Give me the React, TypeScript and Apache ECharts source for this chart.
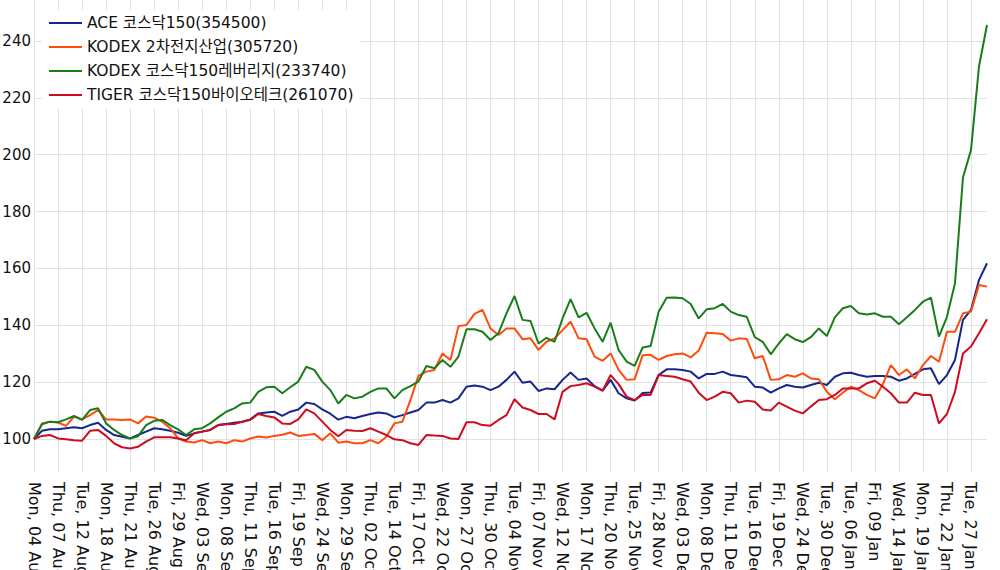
import React, { useEffect, useRef } from "react";
import * as echarts from "echarts";

const categories = [
  "Mon, 04 Aug", "Tue, 05 Aug", "Wed, 06 Aug", "Thu, 07 Aug", "Fri, 08 Aug",
  "Mon, 11 Aug", "Tue, 12 Aug", "Wed, 13 Aug", "Thu, 14 Aug",
  "Mon, 18 Aug", "Tue, 19 Aug", "Wed, 20 Aug", "Thu, 21 Aug", "Fri, 22 Aug",
  "Mon, 25 Aug", "Tue, 26 Aug", "Wed, 27 Aug", "Thu, 28 Aug", "Fri, 29 Aug",
  "Mon, 01 Sep", "Tue, 02 Sep", "Wed, 03 Sep", "Thu, 04 Sep", "Fri, 05 Sep",
  "Mon, 08 Sep", "Tue, 09 Sep", "Wed, 10 Sep", "Thu, 11 Sep", "Fri, 12 Sep",
  "Mon, 15 Sep", "Tue, 16 Sep", "Wed, 17 Sep", "Thu, 18 Sep", "Fri, 19 Sep",
  "Mon, 22 Sep", "Tue, 23 Sep", "Wed, 24 Sep", "Thu, 25 Sep", "Fri, 26 Sep",
  "Mon, 29 Sep", "Tue, 30 Sep", "Wed, 01 Oct", "Thu, 02 Oct", "Fri, 10 Oct",
  "Mon, 13 Oct", "Tue, 14 Oct", "Wed, 15 Oct", "Thu, 16 Oct", "Fri, 17 Oct",
  "Mon, 20 Oct", "Tue, 21 Oct", "Wed, 22 Oct", "Thu, 23 Oct", "Fri, 24 Oct",
  "Mon, 27 Oct", "Tue, 28 Oct", "Wed, 29 Oct", "Thu, 30 Oct", "Fri, 31 Oct",
  "Mon, 03 Nov", "Tue, 04 Nov", "Wed, 05 Nov", "Thu, 06 Nov", "Fri, 07 Nov",
  "Mon, 10 Nov", "Tue, 11 Nov", "Wed, 12 Nov", "Thu, 13 Nov", "Fri, 14 Nov",
  "Mon, 17 Nov", "Tue, 18 Nov", "Wed, 19 Nov", "Thu, 20 Nov", "Fri, 21 Nov",
  "Mon, 24 Nov", "Tue, 25 Nov", "Wed, 26 Nov", "Thu, 27 Nov", "Fri, 28 Nov",
  "Mon, 01 Dec", "Tue, 02 Dec", "Wed, 03 Dec", "Thu, 04 Dec", "Fri, 05 Dec",
  "Mon, 08 Dec", "Tue, 09 Dec", "Wed, 10 Dec", "Thu, 11 Dec", "Fri, 12 Dec",
  "Mon, 15 Dec", "Tue, 16 Dec", "Wed, 17 Dec", "Thu, 18 Dec", "Fri, 19 Dec",
  "Mon, 22 Dec", "Tue, 23 Dec", "Wed, 24 Dec", "Fri, 26 Dec", "Mon, 29 Dec",
  "Tue, 30 Dec", "Fri, 02 Jan", "Mon, 05 Jan", "Tue, 06 Jan", "Wed, 07 Jan",
  "Thu, 08 Jan", "Fri, 09 Jan", "Mon, 12 Jan", "Tue, 13 Jan", "Wed, 14 Jan",
  "Thu, 15 Jan", "Fri, 16 Jan", "Mon, 19 Jan", "Tue, 20 Jan", "Wed, 21 Jan",
  "Thu, 22 Jan", "Fri, 23 Jan", "Mon, 26 Jan", "Tue, 27 Jan", "Wed, 28 Jan",
  "Thu, 29 Jan",
];

const seriesNames = [
  "ACE 코스닥150(354500)",
  "KODEX 2차전지산업(305720)",
  "KODEX 코스닥150레버리지(233740)",
  "TIGER 코스닥150바이오테크(261070)",
];

const aceKosdaq150 = [
  100, 102.9, 103.4, 103.4, 103.8, 104.1, 103.8, 104.9, 105.7, 103.2,
  101.4, 100.8, 100.2, 101.4, 102.6, 103.8, 103.4, 102.9, 102.2, 101.1,
  102.0, 102.6, 103.2, 104.9, 105.3, 105.7, 106.1, 106.9, 109.0, 109.3,
  109.6, 108.1, 109.6, 110.4, 112.8, 112.3, 110.4, 108.9, 106.8, 107.8,
  107.3, 108.1, 108.8, 109.3, 109.0, 107.6, 108.4, 109.3, 110.2, 112.8,
  112.8, 113.7, 112.8, 114.3, 118.4, 118.8, 118.4, 117.2, 118.4, 120.8,
  123.7, 119.8, 120.2, 116.9, 117.8, 117.5, 120.8, 123.4, 120.8, 121.3,
  118.6, 117.0, 120.8, 116.1, 114.3, 113.5, 116.2, 116.4, 122.5, 124.5,
  124.5, 124.3, 123.7, 121.3, 122.9, 122.9, 123.7, 122.5, 122.2, 121.7,
  118.4, 118.1, 116.3, 117.8, 119.0, 118.4, 118.1, 119.0, 119.8, 119.0,
  121.9, 123.1, 123.3, 122.5, 121.9, 122.2, 122.2, 121.9, 120.5, 121.3,
  122.9, 124.5, 124.9, 119.3, 122.5, 127.8, 141.9, 145.4, 155.9, 161.8,
];

const kodexBattery = [
  100, 105.5, 106.1, 105.8, 104.6, 107.9, 106.9, 108.4, 110.2, 106.9,
  106.9, 106.7, 106.9, 105.5, 107.9, 107.5, 106.1, 103.8, 100.2, 99.1,
  98.8, 99.6, 98.5, 99.1, 98.5, 99.6, 99.1, 100.2, 100.9, 100.5,
  101.1, 101.5, 102.3, 101.1, 101.4, 101.8, 99.6, 102.0, 98.7, 99.1,
  98.5, 98.5, 99.6, 98.5, 100.8, 105.5, 106.1, 113.7, 122.2, 123.7,
  124.3, 130.1, 127.8, 139.7, 140.1, 144.0, 145.4, 138.9, 136.6, 138.9,
  138.9, 135.1, 135.4, 131.3, 134.2, 135.4, 138.3, 141.3, 135.4, 135.1,
  129.0, 127.5, 130.1, 124.3, 120.8, 121.0, 129.5, 129.6, 127.8, 129.2,
  129.8, 130.1, 128.7, 131.1, 137.4, 137.2, 136.9, 134.6, 135.4, 135.2,
  128.4, 129.2, 120.8, 121.0, 122.5, 121.9, 123.1, 121.3, 121.0, 116.6,
  114.0, 116.3, 118.4, 117.2, 115.5, 114.3, 119.3, 126.0, 122.5, 124.5,
  121.3, 126.0, 129.2, 127.2, 137.7, 137.7, 144.2, 144.8, 154.2, 153.6,
];

const kodexLeverage = [
  100, 105.2, 106.1, 105.9, 106.9, 108.1, 106.7, 110.2, 110.8, 105.5,
  103.2, 101.4, 100.2, 101.0, 104.9, 106.4, 106.7, 104.9, 103.4, 101.4,
  103.4, 103.8, 105.5, 107.6, 109.6, 110.8, 112.5, 112.8, 116.6, 118.2,
  118.4, 116.1, 118.2, 120.2, 125.4, 124.3, 120.2, 117.2, 112.5, 115.5,
  114.3, 114.9, 116.6, 117.8, 117.8, 114.3, 117.2, 118.6, 120.2, 125.7,
  124.9, 127.8, 125.4, 129.0, 138.6, 138.6, 137.7, 134.8, 137.2, 144.2,
  150.3, 141.9, 141.5, 133.6, 135.6, 134.2, 142.4, 149.2, 142.8, 144.4,
  138.9, 134.2, 140.9, 131.3, 127.2, 125.7, 132.2, 132.7, 144.8, 149.7,
  149.8, 149.5, 147.5, 142.4, 145.6, 146.0, 147.5, 144.8, 143.6, 143.0,
  135.8, 134.2, 129.8, 133.6, 136.9, 135.1, 134.1, 135.8, 138.9, 136.2,
  142.8, 146.0, 146.8, 144.2, 143.8, 144.2, 143.0, 143.0, 140.4, 142.8,
  145.4, 148.3, 149.7, 136.0, 143.0, 154.7, 192.0, 201.6, 231.0, 245.6,
];

const tigerBiotech = [
  100, 101.1, 101.4, 100.2, 99.9, 99.6, 99.4, 102.9, 103.2, 101.1,
  98.5, 97.1, 96.7, 97.3, 99.1, 100.6, 100.6, 100.6, 100.2, 99.6,
  102.0, 102.6, 103.2, 104.9, 105.2, 105.3, 106.1, 106.7, 108.8, 108.1,
  107.6, 105.5, 105.3, 106.9, 110.4, 109.0, 106.1, 103.2, 101.0, 103.2,
  102.9, 102.8, 103.8, 102.6, 101.4, 99.9, 99.6, 98.5, 97.9, 101.4,
  101.2, 101.1, 100.2, 100.0, 105.9, 105.9, 104.9, 104.7, 106.7, 108.4,
  114.0, 111.1, 110.2, 108.8, 108.8, 106.9, 116.6, 118.6, 119.0, 119.6,
  118.4, 117.0, 122.5, 119.3, 114.9, 113.7, 115.5, 115.5, 122.5, 122.2,
  121.9, 121.0, 120.2, 116.3, 113.7, 114.9, 116.6, 116.1, 112.8, 113.5,
  113.1, 110.4, 110.0, 112.8, 111.4, 110.0, 109.0, 111.4, 113.7, 114.0,
  115.5, 117.8, 117.8, 117.8, 119.6, 120.5, 118.4, 116.1, 112.8, 112.8,
  116.3, 115.5, 115.5, 105.5, 108.8, 116.6, 130.1, 132.5, 137.2, 142.1,
];

const seriesValues = [aceKosdaq150, kodexBattery, kodexLeverage, tigerBiotech];
const seriesColors = ["#16268c", "#ff4b0d", "#1a7d1a", "#cc0c20"];

const FONT = "'DejaVu Sans', 'Noto Sans CJK KR', sans-serif";

export default function App() {
  const ref = useRef<HTMLDivElement>(null);

  useEffect(() => {
    if (!ref.current) return;
    const chart = echarts.init(ref.current, undefined, { renderer: "svg" });
    const gridColor = "#e2e2e2";
    const splitColors = [
      "rgba(0,0,0,0)",
      gridColor, gridColor, gridColor, gridColor,
      gridColor, gridColor, gridColor, gridColor,
      "rgba(0,0,0,0)",
    ];
    chart.setOption({
      animation: false,
      backgroundColor: "#ffffff",
      textStyle: { fontFamily: FONT },
      grid: {
        left: 34,
        right: 13,
        top: 0,
        bottom: 98,
        containLabel: false,
        outerBoundsMode: "none",
      },
      legend: {
        data: seriesNames,
        orient: "vertical",
        left: 42,
        top: 10,
        padding: [4, 7, 4, 7],
        backgroundColor: "#ffffff",
        icon: "rect",
        itemWidth: 33,
        itemHeight: 2,
        itemGap: 6,
        textStyle: { fontSize: 15.5, color: "#111", fontFamily: FONT, lineHeight: 18 },
      },
      xAxis: {
        type: "category",
        data: categories,
        boundaryGap: false,
        axisLine: { show: false },
        axisTick: { show: false },
        axisLabel: {
          interval: 2,
          rotate: -90,
          margin: 10,
          fontSize: 16,
          color: "#111",
          fontFamily: FONT,
          hideOverlap: false,
        },
        splitLine: { show: true, interval: 2, lineStyle: { color: gridColor, width: 1 } },
      },
      yAxis: {
        type: "value",
        min: 88.4,
        max: 254.4,
        minInterval: 20,
        maxInterval: 20,
        axisLine: { show: false },
        axisTick: { show: false },
        axisLabel: {
          showMinLabel: false,
          showMaxLabel: false,
          margin: 3,
          fontSize: 15,
          color: "#111",
          fontFamily: FONT,
        },
        splitLine: { show: true, lineStyle: { color: splitColors, width: 1 } },
      },
      series: seriesNames.map((name, i) => ({
        name,
        type: "line",
        data: seriesValues[i],
        showSymbol: false,
        symbol: "none",
        color: seriesColors[i],
        lineStyle: { width: 2, color: seriesColors[i] },
      })),
    });
    return () => chart.dispose();
  }, []);

  return (
    <div
      ref={ref}
      style={{ position: "fixed", left: 0, top: 0, width: 1000, height: 570 }}
    />
  );
}
